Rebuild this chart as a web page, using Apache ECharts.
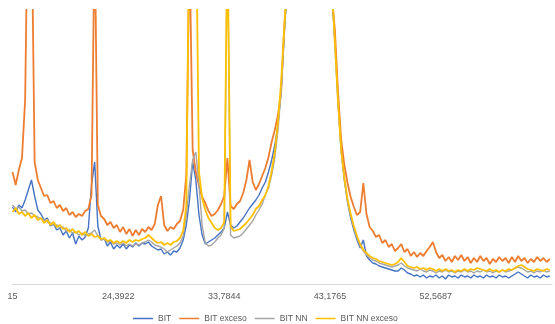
<!DOCTYPE html>
<html>
<head>
<meta charset="utf-8">
<script src="https://cdn.jsdelivr.net/npm/echarts@6/dist/echarts.min.js"></script>
<style>
  html, body { margin: 0; padding: 0; background: #fff; }
  #container { width: 555px; height: 324px; }
</style>
</head>
<body>
<div id="container"></div>
<script>
// 2-theta scan, one reading every STEP degrees starting at 15
var START_ANGLE = 15;
var STEP = 0.2805;
var TICK_STEP = 9.3922;
var tickLabels = ['15', '24,3922', '33,7844', '43,1765', '52,5687'];
var seriesNames = ['BIT', 'BIT exceso', 'BIT NN', 'BIT NN exceso'];
var seriesColors = ['#4472C4', '#ED7D31', '#A5A5A5', '#FFC000'];

var bit = [
  77,72,79,76,84,94,104,88,74,70,
  64,66,58,60,54,56,49,53,46,51,
  40,48,44,47,56,99,122,58,44,46,
  38,42,35,39,36,40,35,39,37,41,
  38,41,40,42,38,36,34,35,30,32,
  29,33,32,36,44,59,84,122,104,69,
  49,40,42,44,46,49,52,56,72,59,
  56,58,62,66,71,76,80,84,89,96,
  102,112,124,139,159,194,252,302,422,562,
  702,822,902,952,982,952,882,762,622,482,
  362,292,244,184,134,104,82,66,54,44,
  36,44,28,24,21,20,18,17,16,15,
  14,13,13,16,14,11,10,8,9,7,
  9,6,8,7,9,6,8,5,9,7,
  8,6,9,7,8,6,9,7,8,6,
  9,7,8,6,9,7,8,6,8,10,
  12,10,8,6,9,7,8,6,9,7,
  8
];

var bitExceso = [
  112,99,114,126,184,420,380,122,104,96,
  88,89,81,83,76,79,73,76,69,72,
  67,70,68,73,75,89,360,79,68,65,
  59,62,56,59,52,57,50,55,48,54,
  49,55,52,57,54,60,79,88,59,53,
  57,55,60,63,74,109,340,134,112,98,
  87,81,73,68,70,74,80,88,126,78,
  75,80,83,91,104,124,102,94,100,108,
  116,127,142,154,169,192,259,300,420,560,
  700,820,900,950,980,950,880,760,620,480,
  360,290,254,192,144,119,101,87,77,69,
  72,101,70,57,53,47,49,41,44,37,
  40,33,36,40,32,35,28,32,27,31,
  28,33,37,42,32,26,29,23,27,22,
  28,24,29,23,27,21,26,22,28,23,
  26,20,25,22,27,23,26,21,27,22,
  28,23,26,21,25,22,27,23,26,22,
  25
];

var bitNN = [
  79,75,77,73,74,70,71,68,67,65,
  64,62,61,59,59,56,57,53,54,51,
  52,49,51,48,50,51,54,48,44,45,
  42,43,40,41,39,41,38,40,38,40,
  39,41,42,44,42,39,38,37,35,32,
  34,36,38,41,48,69,99,124,132,99,
  59,41,38,39,42,46,49,56,350,49,
  46,47,48,51,55,59,63,69,74,80,
  89,96,109,126,154,192,249,305,425,565,
  705,825,905,955,985,955,885,765,625,485,
  365,295,239,179,132,104,84,68,56,46,
  38,33,29,26,24,23,21,20,19,18,
  17,18,19,21,18,16,15,14,13,15,
  13,12,14,13,11,13,12,14,12,13,
  11,13,12,14,12,13,11,13,12,14,
  12,13,11,13,12,14,12,13,14,16,
  17,16,14,12,13,11,13,12,14,12,
  13
];

var bitNNExceso = [
  72,76,70,72,68,71,66,69,64,66,
  61,64,59,62,57,59,55,56,52,55,
  51,53,49,52,48,50,47,48,45,46,
  43,44,41,43,41,43,41,44,42,44,
  43,45,46,49,46,43,41,42,39,41,
  39,42,43,46,53,79,380,420,390,112,
  86,74,66,61,56,54,56,62,360,58,
  53,54,55,58,61,65,69,75,78,84,
  89,98,113,132,162,202,256,310,430,570,
  710,830,910,960,990,960,890,770,630,490,
  370,300,242,182,134,106,85,70,58,48,
  40,34,31,28,26,25,23,22,21,20,
  19,20,22,26,22,18,17,16,17,15,
  16,14,16,15,13,15,13,15,13,14,
  12,14,13,15,13,15,14,16,15,14,
  13,15,13,14,12,14,13,15,14,16,
  18,19,17,15,14,13,15,14,13,15,
  14
];

var allData = [bit, bitExceso, bitNN, bitNNExceso];
var lineWidths = [1.4, 1.8, 1.4, 1.8];

// axis runs in degrees above START_ANGLE so that min = 0
function toPairs(arr) {
  return arr.map(function (v, i) { return [i * STEP, v]; });
}

var dom = document.getElementById('container');
var myChart = echarts.init(dom, null, { renderer: 'canvas' });

var option = {
  animation: false,
  backgroundColor: '#fff',
  grid: { left: 12.5, right: 0, top: 10, bottom: 40 },
  legend: {
    data: seriesNames,
    left: 128,
    top: 309,
    icon: 'rect',
    itemWidth: 20,
    itemHeight: 1.5,
    itemGap: 8,
    textStyle: { color: '#595959', fontSize: 8.5, fontFamily: 'Liberation Sans' }
  },
  xAxis: {
    type: 'value',
    min: 0,
    max: 47.88,
    interval: TICK_STEP,
    axisLine: { lineStyle: { color: '#D9D9D9', width: 1 } },
    axisTick: { show: false },
    splitLine: { show: false },
    axisLabel: {
      color: '#595959',
      fontSize: 9,
      fontFamily: 'Liberation Sans',
      margin: 8,
      formatter: function (v) {
        var idx = Math.round(v / TICK_STEP);
        if (Math.abs(v - idx * TICK_STEP) > 1e-6 || idx >= tickLabels.length) return '';
        return tickLabels[idx];
      }
    }
  },
  yAxis: {
    type: 'value',
    min: 0,
    max: 274,
    show: false
  },
  series: seriesNames.map(function (name, k) {
    return {
      name: name,
      type: 'line',
      data: toPairs(allData[k]),
      symbol: 'none',
      clip: true,
      itemStyle: { color: seriesColors[k] },
      lineStyle: { color: seriesColors[k], width: lineWidths[k] }
    };
  })
};

myChart.setOption(option);
window.addEventListener('resize', myChart.resize);
</script>
</body>
</html>
